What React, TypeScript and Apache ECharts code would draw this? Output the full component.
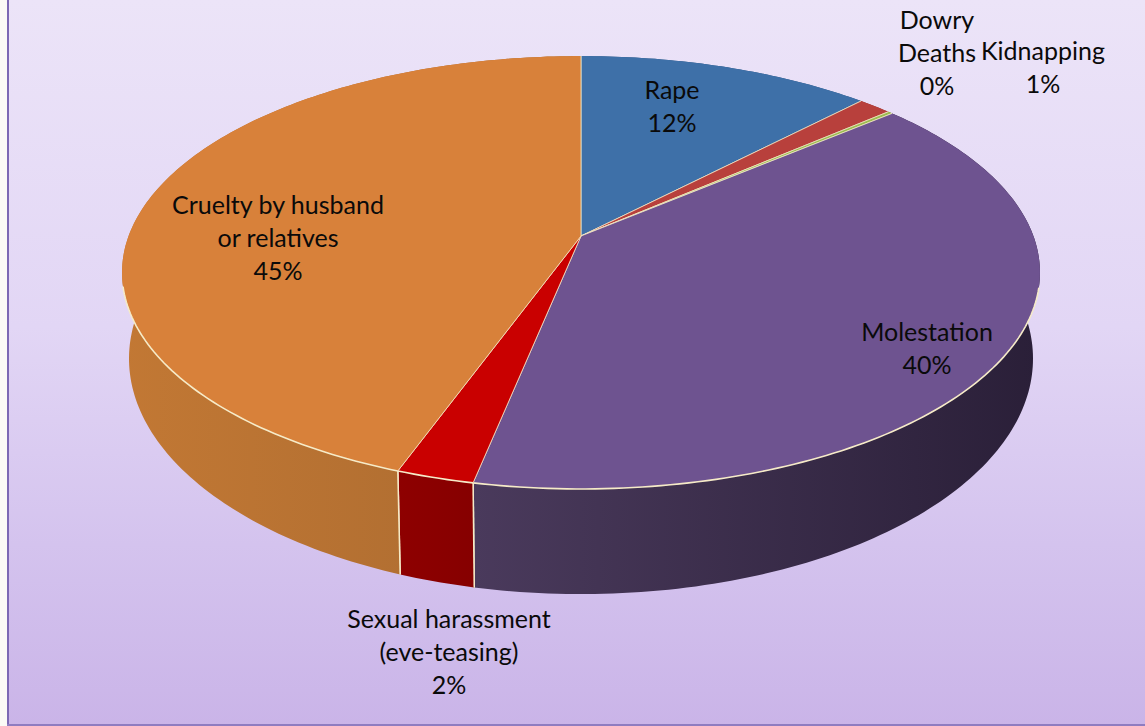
import React, { useEffect, useRef } from "react";
import * as echarts from "echarts";

const categories = ["Rape", "Kidnapping", "Dowry\nDeaths", "Molestation", "Sexual harassment\n(eve-teasing)", "Cruelty by husband\nor relatives"];
const shares = [12.25, 1.4, 0.2, 39.5, 2.35, 44.6];
const topColors = ["#3E70A8", "#B8403C", "#9CBB50", "#6E5390", "#C90000", "#D8813A"];
const wallColors = [
  ["#2E5480", "#2E5480"],
  ["#8A302C", "#8A302C"],
  ["#74893A", "#74893A"],
  ["#4A3A5C", "#2A1F38"],
  ["#8E0000", "#860000"],
  ["#C27834", "#A96A30"],
];
const labelCenters = [
  [672, 105],
  [1043, 66],
  [937, 52],
  [927, 347],
  [449, 651],
  [278, 237],
];

// Projection of the flat disc on to the page.
const APEX = { x: 581, y: 236 };
const BX = 452.4;
const BY = 210.3;
const K = 0.1686;
const TOP_E = { cx: 581.5, cy: 272.5, rx: 459, ry: 216.5 };
const BOT_E = { cx: 581, cy: 358.6, rx: 452, ry: 235.5 };
const RIM = "#F6EBC8";

const total = shares.reduce((a, b) => a + b, 0);
let running = 0;
const sliceData = shares.map((v, i) => {
  const start = running;
  running += v;
  return { name: categories[i].replace("\n", " "), value: [start, running, v, i] };
});

function rimPoint(share: number): number[] {
  const a = (share / total) * Math.PI * 2;
  const u = Math.sin(a);
  const v = -Math.cos(a);
  const w = 1 - K * v;
  return [APEX.x + (BX * u) / w, APEX.y + (BY * v) / w];
}
function floorPoint(p: number[]): number[] {
  const t = Math.atan2((p[1] - TOP_E.cy) / TOP_E.ry, (p[0] - TOP_E.cx) / TOP_E.rx);
  return [BOT_E.cx + BOT_E.rx * Math.cos(t), BOT_E.cy + BOT_E.ry * Math.sin(t)];
}
function rimRun(s: number, e: number): number[][] {
  const n = Math.max(2, Math.ceil(((e - s) / total) * 360));
  const pts: number[][] = [];
  for (let i = 0; i <= n; i++) pts.push(rimPoint(s + ((e - s) * i) / n));
  return pts;
}
const FRONT_Y = 285;

function renderWall(_: any, api: any) {
  const s = api.value(0);
  const e = api.value(1);
  const i = api.value(3);
  const top = rimRun(s, e);
  const bottom = top.map(floorPoint);
  const children: any[] = [
    {
      type: "polygon",
      shape: { points: top.concat(bottom.slice().reverse()) },
      style: {
        fill: new echarts.graphic.LinearGradient(0, 0, 1, 0, [
          { offset: 0, color: wallColors[i][0] },
          { offset: 1, color: wallColors[i][1] },
        ]),
        stroke: null,
      },
    },
  ];
  [top[0], top[top.length - 1]].forEach((p) => {
    if (p[1] > FRONT_Y && p[1] > APEX.y + 100) {
      const f = floorPoint(p);
      children.push({
        type: "line",
        shape: { x1: p[0], y1: p[1], x2: f[0], y2: f[1] },
        style: { stroke: RIM, lineWidth: 1.5 },
      });
    }
  });
  return { type: "group", children };
}

function renderTop(_: any, api: any) {
  const s = api.value(0);
  const e = api.value(1);
  const i = api.value(3);
  const rim = rimRun(s, e);
  const front = rim.filter((p) => p[1] > FRONT_Y);
  const children: any[] = [
    {
      type: "polygon",
      shape: { points: [[APEX.x, APEX.y]].concat(rim) },
      style: { fill: topColors[i], stroke: null },
    },
  ];
  [rim[0], rim[rim.length - 1]].forEach((p) => {
    children.push({
      type: "line",
      shape: { x1: APEX.x, y1: APEX.y, x2: p[0], y2: p[1] },
      style: { stroke: RIM, lineWidth: 1, opacity: 0.75 },
    });
  });
  if (front.length > 1) {
    children.push({
      type: "polyline",
      shape: { points: front },
      style: { stroke: RIM, lineWidth: 1.6, fill: null },
    });
  }
  return { type: "group", children };
}

function renderLabel(_: any, api: any) {
  const i = api.value(3);
  return {
    type: "text",
    x: labelCenters[i][0],
    y: labelCenters[i][1],
    style: {
      text: `${categories[i]}\n${Math.round(api.value(2))}%`,
      font: '25px Lato, "Open Sans", sans-serif',
      lineHeight: 33,
      fill: "#0A0A0A",
      align: "center",
      verticalAlign: "middle",
    },
  };
}

export default function App() {
  const ref = useRef<HTMLDivElement>(null);
  useEffect(() => {
    document.body.style.margin = "0";
    const chart = echarts.init(ref.current!, null, { renderer: "svg" });
    chart.setOption({
      animation: false,
      backgroundColor: new echarts.graphic.LinearGradient(0, 0, 0, 1, [
        { offset: 0, color: "#ECE4F8" },
        { offset: 0.45, color: "#E2D6F5" },
        { offset: 0.75, color: "#D4C3EE" },
        { offset: 1, color: "#CAB4E8" },
      ]),
      graphic: [
        { type: "rect", z: 0, shape: { x: 0, y: 0, width: 7, height: 726 }, style: { fill: "#FBFAF6" } },
        { type: "rect", z: 0, shape: { x: 7, y: 0, width: 2, height: 726 }, style: { fill: "#7C68B4" } },
        { type: "rect", z: 0, shape: { x: 7, y: 724, width: 1138, height: 2 }, style: { fill: "#8F7CC0" } },
      ],
      series: [
        { type: "custom", name: "Walls", coordinateSystem: "none", silent: true, z: 1, data: sliceData, renderItem: renderWall },
        { type: "custom", name: "Top", coordinateSystem: "none", silent: true, z: 2, data: sliceData, renderItem: renderTop },
        { type: "custom", name: "Labels", coordinateSystem: "none", silent: true, z: 3, data: sliceData, renderItem: renderLabel },
      ],
    });
    return () => chart.dispose();
  }, []);
  return <div ref={ref} style={{ width: 1145, height: 726 }} />;
}
